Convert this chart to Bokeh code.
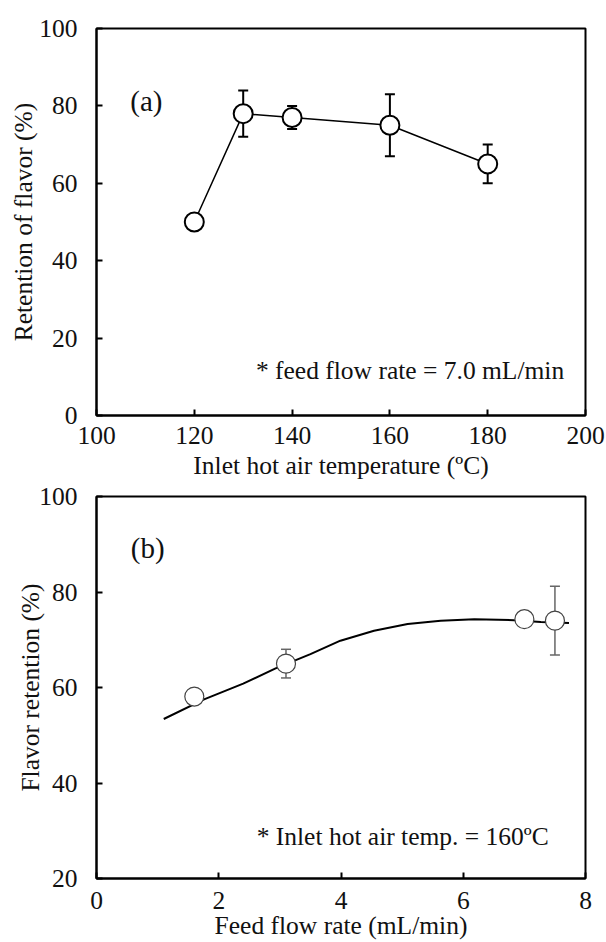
from bokeh.plotting import figure
from bokeh.layouts import column
from bokeh.models import Range1d, FixedTicker, Whisker, TeeHead, ColumnDataSource, Label
from bokeh.embed import file_html
from bokeh.resources import INLINE

# ---- Panel (a) data ----
temp_a = [120, 130, 140, 160, 180]
ret_a = [50, 78, 77, 75, 65]
err_a = [0, 6, 3, 8, 5]
xticks_a = [100, 120, 140, 160, 180, 200]
yticks_a = [0, 20, 40, 60, 80, 100]

# ---- Panel (b) data ----
flow_b = [1.6, 3.1, 7.0, 7.5]
ret_b = [58.1, 65.0, 74.3, 74.0]
err_b = [0, 3.0, 0, 7.2]
curve_x = [1.10, 1.76, 2.40, 2.93, 3.50, 3.99, 4.54, 5.09, 5.63, 6.18, 6.83, 7.27, 7.73]
curve_y = [53.4, 57.5, 60.8, 64.0, 67.0, 69.8, 71.9, 73.3, 74.0, 74.3, 74.1, 73.7, 73.5]
xticks_b = [0, 2, 4, 6, 8]
yticks_b = [20, 40, 60, 80, 100]

FONT = "Liberation Serif"
TXT = "#111111"
FS = "25.5px"


def style(p, xticks, yticks, xlabel, ylabel, xstand, xlstand, ystand):
    p.xgrid.visible = False
    p.ygrid.visible = False
    p.outline_line_color = "black"
    p.outline_line_width = 2
    p.xaxis.ticker = FixedTicker(ticks=xticks)
    p.yaxis.ticker = FixedTicker(ticks=yticks)
    for ax in (p.xaxis, p.yaxis):
        ax.axis_line_width = 2
        ax.axis_line_color = "black"
        ax.major_tick_in = 6
        ax.major_tick_out = 0
        ax.major_tick_line_width = 2
        ax.minor_tick_line_color = None
        ax.major_label_text_font = FONT
        ax.major_label_text_font_size = FS
        ax.major_label_text_color = TXT
        ax.axis_label_text_font = FONT
        ax.axis_label_text_font_size = FS
        ax.axis_label_text_font_style = "normal"
        ax.axis_label_text_color = TXT
    p.xaxis.axis_label = xlabel
    p.yaxis.axis_label = ylabel
    p.xaxis.major_label_standoff = xstand
    p.xaxis.axis_label_standoff = xlstand
    p.yaxis.major_label_standoff = 19
    p.yaxis.axis_label_standoff = ystand


# ---- Figure (a) ----
pa = figure(width=606, height=482, output_backend="svg", toolbar_location=None,
            x_range=Range1d(100, 200), y_range=Range1d(0, 100),
            min_border_left=95, min_border_right=20, min_border_top=28, min_border_bottom=67)
style(pa, xticks_a, yticks_a, "Inlet hot air temperature (ºC)", "Retention of flavor (%)", 11, 4, -2)

src_a = ColumnDataSource(dict(x=temp_a, y=ret_a,
                              up=[v + e for v, e in zip(ret_a, err_a)],
                              lo=[v - e for v, e in zip(ret_a, err_a)]))
wa = Whisker(source=src_a, base="x", upper="up", lower="lo", dimension="height",
             line_color="black", line_width=2, level="underlay",
             upper_head=TeeHead(size=10, line_width=2, line_color="black"),
             lower_head=TeeHead(size=10, line_width=2, line_color="black"))
pa.add_layout(wa)
pa.line("x", "y", source=src_a, line_color="black", line_width=1.5)
pa.scatter("x", "y", source=src_a, size=19, fill_color="white", line_color="black", line_width=2)
pa.add_layout(Label(x=106.9, y=81.2, text="(a)", text_font=FONT, text_font_size="29px",
                    text_baseline="middle", text_color=TXT))
pa.add_layout(Label(x=132.6, y=11.6, text="* feed flow rate = 7.0 mL/min", text_font=FONT,
                    text_font_size=FS, text_baseline="middle", text_color=TXT))

# ---- Figure (b) ----
pb = figure(width=606, height=460, output_backend="svg", toolbar_location=None,
            x_range=Range1d(0, 8), y_range=Range1d(20, 100),
            min_border_left=96, min_border_right=21, min_border_top=14, min_border_bottom=64)
style(pb, xticks_b, yticks_b, "Feed flow rate (mL/min)", "Flavor retention (%)", 13, -1, -9)

pb.line(curve_x, curve_y, line_color="black", line_width=2)
src_b = ColumnDataSource(dict(x=flow_b, y=ret_b,
                              up=[v + e for v, e in zip(ret_b, err_b)],
                              lo=[v - e for v, e in zip(ret_b, err_b)]))
wb = Whisker(source=src_b, base="x", upper="up", lower="lo", dimension="height",
             line_color="#666666", line_width=1.5, level="underlay",
             upper_head=TeeHead(size=10, line_width=1.5, line_color="#666666"),
             lower_head=TeeHead(size=10, line_width=1.5, line_color="#666666"))
pb.add_layout(wb)
pb.scatter("x", "y", source=src_b, size=19, fill_color="white", line_color="#444444", line_width=1.2)
pb.add_layout(Label(x=0.56, y=89.3, text="(b)", text_font=FONT, text_font_size="29px",
                    text_baseline="middle", text_color=TXT))
pb.add_layout(Label(x=2.62, y=28.8, text="* Inlet hot air temp. = 160ºC", text_font=FONT,
                    text_font_size=FS, text_baseline="middle", text_color=TXT))

layout = column(pa, pb, spacing=0)
open("out.html", "w").write(file_html(layout, INLINE))
